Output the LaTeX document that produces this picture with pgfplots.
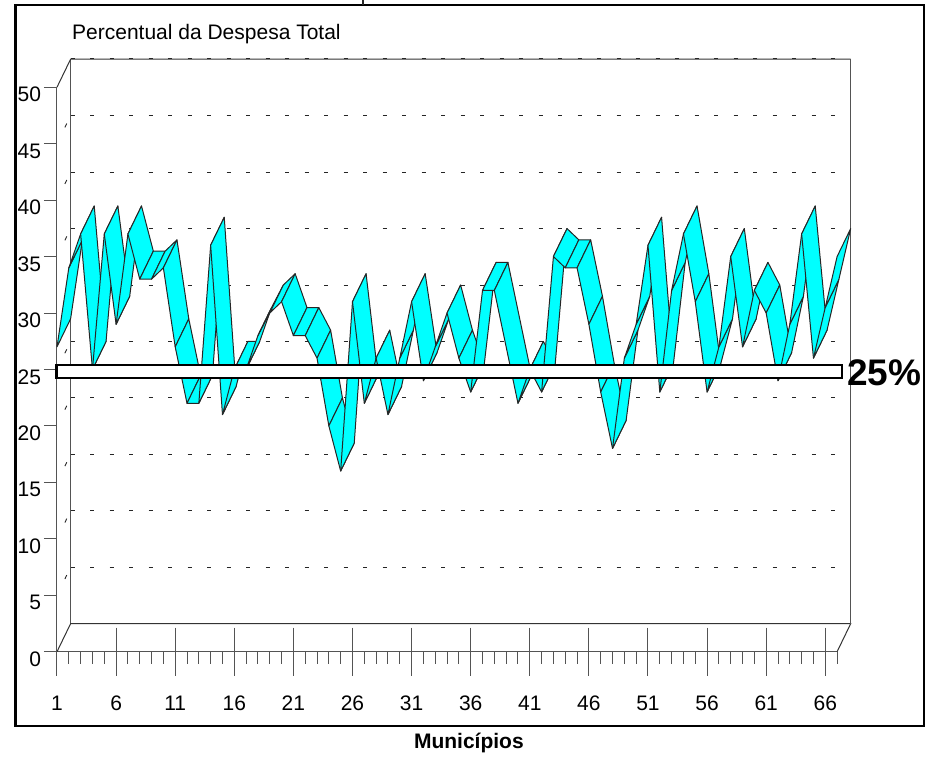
\documentclass[border=0pt]{standalone}
\usepackage{fontspec}
\setmainfont{Liberation Sans}
\usepackage{pgfplots}
\pgfplotsset{compat=1.18}
\definecolor{axisgray}{gray}{0.33}
\definecolor{ribboncyan}{RGB}{0,255,255}
\pgfplotsset{ribbon/.style={fill=ribboncyan,draw=black!85,line width=1pt,line join=round,mark=none,forget plot}}
\def\dx{1.15}
\def\dy{2.48}
% one ribbon panel between municipality #1 (value #2) and the next (value #3)
\newcommand\seg[3]{%
  \pgfmathsetmacro\xa{#1}\pgfmathsetmacro\xb{#1+1}%
  \pgfmathsetmacro\xc{#1+1+\dx}\pgfmathsetmacro\xd{#1+\dx}%
  \pgfmathsetmacro\yc{#3+\dy}\pgfmathsetmacro\yd{#2+\dy}%
  \edef\tmp{\noexpand\addplot[ribbon] coordinates {(\xa,#2)(\xb,#3)(\xc,\yc)(\xd,\yd)} --cycle;}\tmp}
% panel over two municipalities that run on in a straight line
\newcommand\segtwo[4]{%
  \pgfmathsetmacro\xa{#1}\pgfmathsetmacro\xb{#1+1}\pgfmathsetmacro\xe{#1+2}%
  \pgfmathsetmacro\xc{#1+2+\dx}\pgfmathsetmacro\xf{#1+1+\dx}\pgfmathsetmacro\xd{#1+\dx}%
  \pgfmathsetmacro\yc{#4+\dy}\pgfmathsetmacro\yf{#3+\dy}\pgfmathsetmacro\yd{#2+\dy}%
  \edef\tmp{\noexpand\addplot[ribbon] coordinates {(\xa,#2)(\xb,#3)(\xe,#4)(\xc,\yc)(\xf,\yf)(\xd,\yd)} --cycle;}\tmp}
\begin{document}
\begin{tikzpicture}
\useasboundingbox (-57pt,-104.3pt) rectangle (870pt,651.7pt);
\begin{axis}[
  scale only axis, width=780.1pt, height=564.5pt,
  xmin=1, xmax=67, ymin=0, ymax=50,
  clip=false,
  axis x line=bottom, axis y line=left,
  axis line style={draw=axisgray,line width=1pt,-},
  tick align=outside, major tick length=13pt, minor tick length=12pt,
  tick style={draw=axisgray,line width=1pt},
  xtick={1,6,11,16,21,26,31,36,41,46,51,56,61,66},
  minor xtick={2,3,4,5,7,8,9,10,12,13,14,15,17,18,19,20,22,23,24,25,27,28,29,30,32,33,34,35,37,38,39,40,42,43,44,45,47,48,49,50,52,53,54,55,57,58,59,60,62,63,64,65,67},
  ytick={0,5,10,15,20,25,30,35,40,45,50},
  tick label style={font=\fontsize{21}{24}\selectfont},
  /pgf/number format/assume math mode=true,
  x tick label style={yshift=-28pt},
  y tick label style={yshift=-7.5pt,xshift=0.5pt},
  title={Percentual da Despesa Total},
  title style={at={(axis description cs:0.0192,1.0978)},anchor=west,font=\fontsize{21}{24}\selectfont,inner sep=0pt,yshift=-8pt},
  xlabel={\textbf{Municípios}},
  xlabel style={at={(axis description cs:0.528,-0.158)},anchor=center,font=\fontsize{21}{24}\selectfont,inner sep=0pt,yshift=-2pt},
]
% side wall, back wall and floor
\draw[axisgray,line width=1pt] (axis cs:{1+\dx},\dy) -- (axis cs:{1+\dx},{50+\dy});
\draw[black!80,line width=1pt] (axis cs:1,50) -- (axis cs:{1+\dx},{50+\dy}) -- (axis cs:{67+\dx},{50+\dy});
\draw[black!80,line width=1pt] (axis cs:1,0) -- (axis cs:{1+\dx},\dy) -- (axis cs:{67+\dx},\dy) -- (axis cs:67,0);
\draw[axisgray,line width=1pt] (axis cs:{67+\dx},\dy) -- (axis cs:{67+\dx},{50+\dy});
% back wall grid, side wall grid marks
\pgfplotsinvokeforeach{5,10,...,45}{
  \draw[black!85,line width=0.9pt,dash pattern=on 4.2pt off 15.3pt] (axis cs:{1+\dx},{#1+\dy}) -- (axis cs:66.9,{#1+\dy});
  \draw[black!85,line width=0.9pt] (axis cs:{1+0.58*\dx},{#1+0.58*\dy}) -- (axis cs:{1+0.72*\dx},{#1+0.72*\dy});
}
\draw[black!85,line width=0.9pt,dash pattern=on 4.2pt off 15.3pt] (axis cs:{1+\dx},{50+\dy+0.05}) -- (axis cs:66.9,{50+\dy+0.05});
% long floor ticks
\pgfplotsinvokeforeach{1,6,...,66}{
  \draw[axisgray,line width=1pt] (axis cs:#1,2.126) -- (axis cs:#1,-2.126);
}
% the ribbon
\seg{1}{27}{34}
\seg{2}{34}{37}
\seg{3}{37}{25}
\seg{4}{25}{37}
\seg{5}{37}{29}
\seg{6}{29}{37}
\seg{7}{37}{33}
\seg{8}{33}{33}
\seg{9}{33}{34}
\seg{10}{34}{27}
\seg{11}{27}{22}
\seg{12}{22}{22}
\seg{13}{22}{36}
\seg{14}{36}{21}
\seg{15}{21}{25}
\seg{16}{25}{25}
\seg{17}{25}{28}
\seg{18}{28}{30}
\seg{19}{30}{31}
\seg{20}{31}{28}
\seg{21}{28}{28}
\seg{22}{28}{26}
\seg{23}{26}{20}
\seg{24}{20}{16}
\seg{25}{16}{31}
\seg{26}{31}{22}
\seg{27}{22}{26}
\seg{28}{26}{21}
\seg{29}{21}{26}
\seg{30}{26}{31}
\seg{31}{31}{24}
\seg{32}{24}{27}
\seg{33}{27}{30}
\seg{34}{30}{26}
\seg{35}{26}{23}
\seg{36}{23}{32}
\seg{37}{32}{32}
\segtwo{38}{32}{27}{22}
\seg{40}{22}{25}
\seg{41}{25}{23}
\seg{42}{23}{35}
\seg{43}{35}{34}
\seg{44}{34}{34}
\seg{45}{34}{29}
\seg{46}{29}{23}
\seg{47}{23}{18}
\seg{48}{18}{26}
\seg{49}{26}{29}
\seg{50}{29}{36}
\seg{51}{36}{23}
\seg{52}{23}{32}
\seg{53}{32}{37}
\seg{54}{37}{31}
\seg{55}{31}{23}
\seg{56}{23}{27}
\seg{57}{27}{35}
\seg{58}{35}{27}
\seg{59}{27}{32}
\seg{60}{32}{30}
\seg{61}{30}{24}
\seg{62}{24}{29}
\seg{63}{29}{37}
\seg{64}{37}{26}
\seg{65}{26}{30.5}
\seg{66}{30.5}{35}
% the 25% bar
\addplot[fill=white,draw=black,line width=2.2pt,mark=none,forget plot] coordinates {(0.96,24.22)(67.4,24.22)(67.4,25.39)(0.96,25.39)} --cycle;
\node[anchor=west,inner sep=0pt,font=\fontsize{37}{40}\selectfont\bfseries] at (axis cs:67.85,24.75) {25\%};
\end{axis}
% outer frame
\draw[black,line width=2.2pt] (-41.5pt,646.7pt) rectangle (867pt,-74pt);
\draw[black!85,line width=2pt] (306pt,646.7pt) -- (306pt,651.7pt);
\end{tikzpicture}
\end{document}
